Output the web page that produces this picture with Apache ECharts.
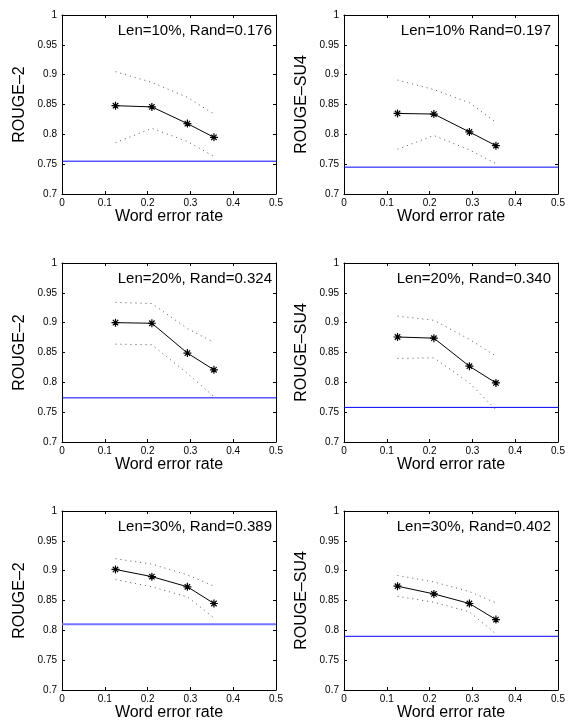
<!DOCTYPE html>
<html>
<head>
<meta charset="utf-8">
<script src="https://cdn.jsdelivr.net/npm/echarts@6/dist/echarts.min.js"></script>
<style>
html,body{margin:0;padding:0;background:#fff;}
#chart{width:568px;height:722px;}
</style>
</head>
<body>
<div id="chart"></div>
<script>
// Word error rate (x positions of the four systems)
const werX = [0.125, 0.21, 0.293, 0.355];

// Panel annotations and y-axis names
const annotations = ['Len=10%, Rand=0.176', 'Len=10% Rand=0.197', 'Len=20%, Rand=0.324', 'Len=20%, Rand=0.340', 'Len=30%, Rand=0.389', 'Len=30%, Rand=0.402'];
const yNames = ['ROUGE–2', 'ROUGE–SU4', 'ROUGE–2', 'ROUGE–SU4', 'ROUGE–2', 'ROUGE–SU4'];
const xName = 'Word error rate';

// Mean scores
const mean10R2 = [0.848, 0.846, 0.818, 0.795];
const mean10SU4 = [0.835, 0.834, 0.804, 0.781];
const mean20R2 = [0.900, 0.899, 0.849, 0.821];
const mean20SU4 = [0.876, 0.874, 0.827, 0.799];
const mean30R2 = [0.902, 0.890, 0.873, 0.845];
const mean30SU4 = [0.874, 0.861, 0.845, 0.818];

// Upper confidence bounds (dotted)
const upper10R2 = [0.905, 0.887, 0.862, 0.834];
const upper10SU4 = [0.891, 0.875, 0.853, 0.820];
const upper20R2 = [0.934, 0.932, 0.890, 0.867];
const upper20SU4 = [0.911, 0.904, 0.872, 0.844];
const upper30R2 = [0.920, 0.911, 0.893, 0.874];
const upper30SU4 = [0.892, 0.881, 0.865, 0.846];

// Lower confidence bounds (dotted)
const lower10R2 = [0.786, 0.810, 0.788, 0.763];
const lower10SU4 = [0.775, 0.798, 0.774, 0.751];
const lower20R2 = [0.864, 0.863, 0.815, 0.776];
const lower20SU4 = [0.840, 0.841, 0.799, 0.754];
const lower30R2 = [0.885, 0.873, 0.856, 0.821];
const lower30SU4 = [0.857, 0.847, 0.831, 0.794];

// Random baseline (blue horizontal line)
const randBaseline = [0.755, 0.745, 0.774, 0.758, 0.810, 0.790];

// Axis ranges
const xMin = 0, xMax = 0.5, xStep = 0.1;
const yMin = 0.7, yMax = 1, yStep = 0.05;

const means = [mean10R2, mean10SU4, mean20R2, mean20SU4, mean30R2, mean30SU4];
const uppers = [upper10R2, upper10SU4, upper20R2, upper20SU4, upper30R2, upper30SU4];
const lowers = [lower10R2, lower10SU4, lower20R2, lower20SU4, lower30R2, lower30SU4];

const FONT = 'Liberation Sans, Arial, sans-serif';
const gridLefts = [62, 344];
const gridTops = [15, 263, 511];
const GW = 214, GH = 179;

const grids = [], xAxes = [], yAxes = [], series = [], titles = [];
const pair = a => werX.map((x, i) => [x, a[i]]);
const asterisk = 'path://M0,5L10,5M5,0L5,10M1.6,1.6L8.4,8.4M8.4,1.6L1.6,8.4';

for (let p = 0; p < 6; p++) {
  const col = p % 2, row = Math.floor(p / 2);
  const left = gridLefts[col], top = gridTops[row];
  grids.push({left: left, top: top, width: GW, height: GH, containLabel: false});
  const axLine = {show: true, onZero: false, lineStyle: {color: '#000', width: 1}};
  const tick = {show: true, inside: true, length: 3, lineStyle: {color: '#000', width: 1}};
  xAxes.push({
    gridIndex: p, type: 'value', position: 'bottom', min: xMin, max: xMax, interval: xStep,
    name: xName, nameLocation: 'middle', nameGap: 12,
    nameTextStyle: {fontFamily: FONT, fontSize: 16, color: '#000', verticalAlign: 'top'},
    axisLine: axLine, axisTick: tick, splitLine: {show: false},
    axisLabel: {fontFamily: FONT, fontSize: 10, color: '#000', margin: 4}
  });
  xAxes.push({
    gridIndex: p, type: 'value', position: 'top', min: xMin, max: xMax, interval: xStep,
    axisLine: axLine, axisTick: tick, splitLine: {show: false}, axisLabel: {show: false}
  });
  yAxes.push({
    gridIndex: p, type: 'value', position: 'left', min: yMin, max: yMax, interval: yStep,
    name: yNames[p], nameLocation: 'middle', nameGap: 34, nameRotate: 90,
    nameTextStyle: {fontFamily: FONT, fontSize: 16, color: '#000'},
    axisLine: axLine, axisTick: tick, splitLine: {show: false},
    axisLabel: {fontFamily: FONT, fontSize: 10, color: '#000', margin: 5}
  });
  yAxes.push({
    gridIndex: p, type: 'value', position: 'right', min: yMin, max: yMax, interval: yStep,
    axisLine: axLine, axisTick: tick, splitLine: {show: false}, axisLabel: {show: false}
  });
  const xi = 2 * p, yi = 2 * p;
  const soft = p === 4;
  // baseline spanning the full x range
  series.push({
    type: 'line', xAxisIndex: xi, yAxisIndex: yi, silent: true, symbol: 'none',
    data: [[xMin, randBaseline[p]], [xMax, randBaseline[p]]],
    lineStyle: {color: soft ? '#7474ff' : '#0000ff', width: soft ? 2 : 1, type: 'solid'},
    itemStyle: {color: '#0000ff'}, z: 1
  });
  // bounds
  [uppers[p], lowers[p]].forEach(b => {
    series.push({
      type: 'line', xAxisIndex: xi, yAxisIndex: yi, data: pair(b), symbol: 'none', silent: true,
      lineStyle: {color: '#555', width: 1, type: [1, 4]}
    });
  });
  // mean
  series.push({
    type: 'line', xAxisIndex: xi, yAxisIndex: yi, data: pair(means[p]),
    symbol: asterisk, symbolSize: 8, showAllSymbol: true,
    itemStyle: {color: 'rgba(0,0,0,0)', borderColor: '#000', borderWidth: 1.2},
    lineStyle: {color: '#000', width: 1}
  });
  titles.push({
    text: annotations[p],
    right: col === 0 ? 296 : 17,
    top: top + 8,
    padding: 0,
    textStyle: {fontFamily: FONT, fontSize: 15, fontWeight: 'normal', color: '#000'}
  });
}

const chart = echarts.init(document.getElementById('chart'), null, {renderer: 'canvas'});
chart.setOption({
  backgroundColor: '#fff',
  animation: false,
  title: titles,
  grid: grids,
  xAxis: xAxes,
  yAxis: yAxes,
  series: series
});
</script>
</body>
</html>
